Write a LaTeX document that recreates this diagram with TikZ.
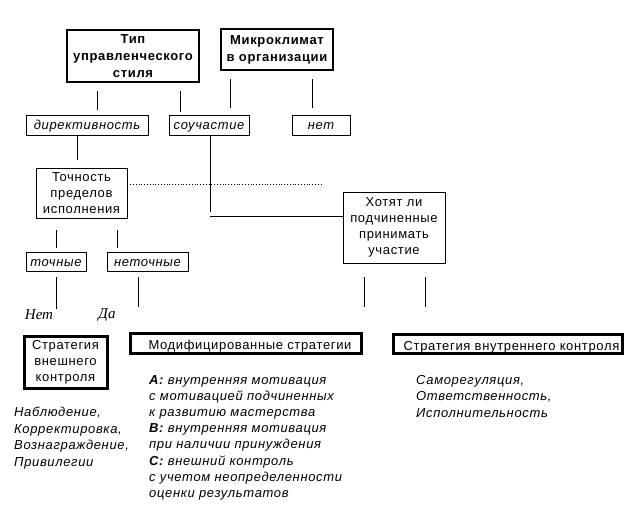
\documentclass[tikz,border=0pt]{standalone}
\usepackage{fontspec}
\setmainfont{Liberation Sans}[LetterSpace=5]
\newfontfamily\answerfont{Liberation Serif}

\begin{document}
\begin{tikzpicture}[x=1pt, y=-1pt,
    box/.style={draw, line width=.8pt, inner sep=0pt, font=\fontsize{13}{16}\selectfont},
    head/.style={box, align=center, line width=1.6pt, font=\fontsize{13}{17}\selectfont\bfseries},
    tag/.style={box, text height=11pt, text depth=2pt, font=\fontsize{13}{15}\selectfont\itshape},
    strat/.style={box, line width=3pt},
    answer/.style={inner sep=1pt, font=\fontsize{15}{17}\selectfont\answerfont\itshape},
    list/.style={anchor=north west, align=left, inner sep=0pt,
        font=\fontsize{13}{16.6}\selectfont\itshape},
    link/.style={line width=.8pt},
]
    \useasboundingbox (0,0) rectangle (638,512);

    \node[head, minimum width=132pt, minimum height=52pt] (tip) at (133,56) {Тип\\управленческого\\стиля};
    \node[head, minimum width=112pt, minimum height=41pt] (micro) at (277,49.5) {Микроклимат\\в организации};

    \node[tag, minimum width=122pt, minimum height=20pt] (dir) at (87,125) {директивность};
    \node[tag, minimum width=80pt, minimum height=20pt] (sou) at (209,125) {соучастие};
    \node[tag, minimum width=58pt, minimum height=20pt] (net) at (321,125) {нет};

    \node[box, align=center, minimum width=91pt, minimum height=50pt] (toch) at (81.5,193) {Точность\\пределов\\исполнения};
    \node[box, align=center, minimum width=102pt, minimum height=71pt] (hot) at (394,227.5) {Хотят ли\\подчиненные\\принимать\\участие};

    \node[tag, minimum width=60pt, minimum height=19pt] (tochnye) at (56,261.5) {точные};
    \node[tag, minimum width=81pt, minimum height=19pt] (netochnye) at (147.5,261.5) {неточные};

    \node[answer] (no) at (39,315) {Нет};
    \node[answer] (yes) at (107,315) {Да};

    \node[strat, align=center, minimum width=83pt, minimum height=52pt] (ext) at (65.5,362) {Стратегия\\внешнего\\контроля};
    \node[strat, text height=13pt, text depth=1pt, minimum width=231pt, minimum height=20pt] (mod) at (245.5,343) {\hspace*{9pt}Модифицированные стратегии};
    \node[strat, text height=13pt, text depth=1pt, minimum width=229pt, minimum height=19pt] (int) at (507.5,344) {\hspace*{8pt}Стратегия внутреннего контроля};

    \node[list] (extlist) at (14,407) {Наблюдение,\\Корректировка,\\Вознаграждение,\\Привилегии};
    \node[list, font=\fontsize{13}{16.2}\selectfont\itshape] (modlist) at (149,375) {\textbf{A:} внутренняя мотивация\\с мотивацией подчиненных\\к развитию мастерства\\
        \textbf{B:} внутренняя мотивация\\при наличии принуждения\\\textbf{C:} внешний контроль\\
        с учетом неопределенности\\оценки результатов};
    \node[list] (intlist) at (416,375) {Саморегуляция,\\Ответственность,\\Исполнительность};

    % free ends
    \coordinate (bend) at (210,216);
    \coordinate (dotend) at (323,184);
    \coordinate (dalink) at ([xshift=-9.5pt]netochnye.south);
    \coordinate (hotl) at ([xshift=-30pt]hot.south);
    \coordinate (hotr) at ([xshift=31pt]hot.south);

    \draw[link, shorten <=8pt, shorten >=5pt] ([xshift=-36pt]tip.south) -- ([xshift=10pt]dir.north);
    \draw[link, shorten <=8pt, shorten >=3pt] ([xshift=47pt]tip.south) -- ([xshift=-29pt]sou.north);
    \draw[link, shorten <=8pt, shorten >=7pt] ([xshift=-47pt]micro.south) -- ([xshift=21pt]sou.north);
    \draw[link, shorten <=8pt, shorten >=7pt] ([xshift=35pt]micro.south) -- ([xshift=-9pt]net.north);

    \draw[link, shorten >=8pt] ([xshift=-10pt]dir.south) -- ([xshift=-4.5pt]toch.north);
    \draw[link] ([xshift=1pt]sou.south) -- ([yshift=4pt]bend);
    \draw[link] (bend) -- ([yshift=11.5pt]hot.west);
    \draw[link, dotted] ([yshift=9pt]toch.east) -- (dotend);

    \draw[link, shorten <=12pt, shorten >=4pt] ([xshift=-25.5pt]toch.south) -- (tochnye.north);
    \draw[link, shorten <=12pt, shorten >=4pt] ([xshift=35.5pt]toch.south) -- ([xshift=-30.5pt]netochnye.north);
    \draw[link, shorten <=6pt] (tochnye.south) -- (tochnye.south |- no.north);
    \draw[link, shorten <=6pt] (dalink) -- (dalink |- yes.north);
    \draw[link, shorten <=14pt] (hotl) -- (hotl |- yes.north);
    \draw[link, shorten <=14pt] (hotr) -- (hotr |- yes.north);
\end{tikzpicture}
\end{document}
